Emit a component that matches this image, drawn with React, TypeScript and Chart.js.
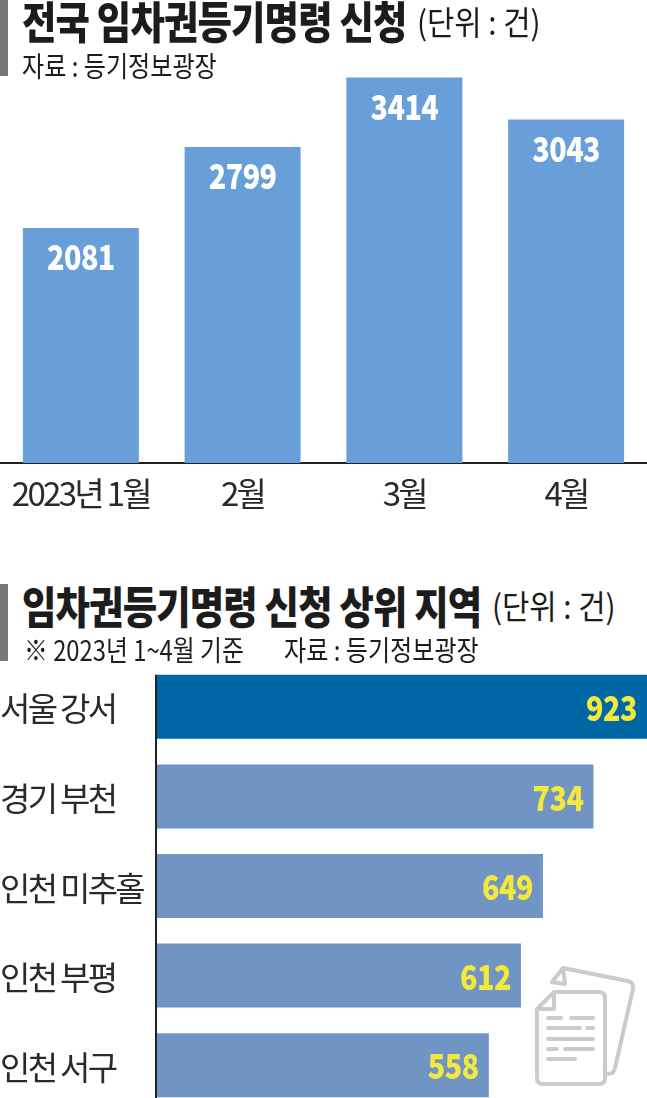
import React, { useEffect, useRef } from "react";
import { Chart, registerables } from "chart.js";

Chart.register(...registerables);

const monthLabels = ["2023년 1월", "2월", "3월", "4월"];
const monthValues = [2081, 2799, 3414, 3043];
const regionLabels = ["서울 강서", "경기 부천", "인천 미추홀", "인천 부평", "인천 서구"];
const regionValues = [923, 734, 649, 612, 558];
const regionColors = ["#0067a6", "#7094c3", "#7094c3", "#7094c3", "#7094c3"];

const FONT = '"Noto Sans CJK KR", "Noto Sans", sans-serif';

const barLabels = (color: string, size: number, squeeze: number, horizontal: boolean, offset: number) => ({
  id: "barLabels",
  beforeDraw(chart: any) {
    chart.ctx.letterSpacing = "-2.7px";
  },
  afterDatasetsDraw(chart: any) {
    const { ctx, chartArea } = chart;
    const meta = chart.getDatasetMeta(0);
    const values = chart.data.datasets[0].data;
    meta.data.forEach((bar: any, i: number) => {
      ctx.save();
      ctx.letterSpacing = "-0.6px";
      ctx.font = `900 ${size}px ${FONT}`;
      ctx.fillStyle = color;
      ctx.textBaseline = "middle";
      if (horizontal) {
        ctx.textAlign = "right";
        ctx.translate(Math.min(bar.x, chartArea.right) - offset, bar.y + 1);
      } else {
        ctx.textAlign = "center";
        ctx.translate(bar.x, bar.y + offset);
      }
      ctx.scale(squeeze, 1);
      ctx.fillText(String(values[i]), 0, 0);
      ctx.restore();
    });
  },
});

const regionAxisLine = {
  id: "regionAxisLine",
  afterDatasetsDraw(chart: any) {
    const { ctx, chartArea } = chart;
    const first = chart.getDatasetMeta(0).data[0];
    ctx.save();
    ctx.strokeStyle = "#222";
    ctx.lineWidth = 2;
    ctx.beginPath();
    ctx.moveTo(chartArea.left - 1, first.y - first.height / 2);
    ctx.lineTo(chartArea.left - 1, chartArea.bottom);
    ctx.stroke();
    ctx.restore();
  },
};

const nudgeRegionTicks = {
  id: "nudgeRegionTicks",
  beforeDraw(chart: any) {
    if (chart.$nudged) return;
    chart.$nudged = true;
    chart.scales.y.getLabelItems().forEach((item: any) => {
      item.options.translation[1] += 2;
    });
  },
};

function MonthChart() {
  const ref = useRef<HTMLCanvasElement>(null);
  useEffect(() => {
    const chart = new Chart(ref.current!, {
      type: "bar",
      data: {
        labels: monthLabels,
        datasets: [{ data: monthValues, backgroundColor: "#689fd9", barPercentage: 0.717, categoryPercentage: 1 }],
      },
      options: {
        animation: false,
        responsive: false,
        layout: { padding: { top: 63 } },
        plugins: { legend: { display: false }, tooltip: { enabled: false } },
        scales: {
          x: {
            grid: { display: false, drawTicks: false },
            border: { display: true, color: "#222", width: 2 },
            ticks: { color: "#2a2a2a", font: { family: FONT, size: 33 }, padding: 11, maxRotation: 0, autoSkip: false },
            afterFit: (s: any) => { s.height = 77; s.paddingLeft = 0; s.paddingRight = 0; },
          },
          y: { display: false, min: 0, max: 3543 },
        },
      },
      plugins: [barLabels("#ffffff", 35, 0.82, false, 29)],
    } as any);
    return () => chart.destroy();
  }, []);
  return <canvas ref={ref} width={647} height={540} style={{ position: "absolute", left: 0, top: 0 }} />;
}

function RegionChart() {
  const ref = useRef<HTMLCanvasElement>(null);
  useEffect(() => {
    const chart = new Chart(ref.current!, {
      type: "bar",
      data: {
        labels: regionLabels,
        datasets: [{ data: regionValues, backgroundColor: regionColors, barPercentage: 0.714, categoryPercentage: 1 }],
      },
      options: {
        indexAxis: "y",
        animation: false,
        responsive: false,
        layout: { padding: 0 },
        plugins: { legend: { display: false }, tooltip: { enabled: false } },
        scales: {
          x: { display: false, min: 0, max: 824 },
          y: {
            grid: { display: false, drawTicks: false },
            border: { display: false },
            ticks: { color: "#2a2a2a", font: { family: FONT, size: 33 }, crossAlign: "far", padding: 0, autoSkip: false },
            afterFit: (s: any) => { s.width = 157; s.paddingTop = 0; s.paddingBottom = 0; },
          },
        },
      },
      plugins: [barLabels("#f2e93c", 35, 0.82, true, 10), regionAxisLine, nudgeRegionTicks],
    } as any);
    return () => chart.destroy();
  }, []);
  return <canvas ref={ref} width={647} height={448} style={{ position: "absolute", left: 0, top: 662 }} />;
}

const text = (left: number, top: number, size: number, weight: number, spacing: number, squeeze: number): React.CSSProperties => ({
  position: "absolute",
  left,
  top,
  fontSize: size,
  fontWeight: weight,
  letterSpacing: spacing,
  lineHeight: 1,
  whiteSpace: "pre",
  color: "#1c1c1c",
  fontFamily: FONT,
  transform: `scaleX(${squeeze})`,
  transformOrigin: "left top",
});

function DocIcon() {
  const stroke = "#cbcbcb";
  return (
    <svg width={110} height={125} viewBox="0 0 110 125" style={{ position: "absolute", left: 530, top: 965 }} fill="none" stroke={stroke} strokeLinecap="round" strokeLinejoin="round">
      <path d="M22 17 L33 3 L98 16 Q104 18 103 24 L85 103 Q83 111 76 108" strokeWidth={4} />
      <path d="M22 17 L35 19 L33 3" strokeWidth={4} />
      <path d="M7 44 L24 27 L69 27 Q75 27 75 33 L75 113 Q75 119 69 119 L13 119 Q7 119 7 113 Z" fill="#fff" strokeWidth={4} />
      <path d="M7 44 L24 44 L24 27" strokeWidth={4} />
      <path d="M18 53 H31 M41 53 H63 M18 63 H50 M57 63 H63 M18 74 H63 M18 84 H27 M35 84 H63 M18 94 H45" strokeWidth={4} />
    </svg>
  );
}

export default function App() {
  useEffect(() => {
    document.body.style.margin = "0";
  }, []);
  return (
    <div style={{ position: "relative", width: 647, height: 1098, overflow: "hidden", background: "#fff" }}>
      <MonthChart />
      <RegionChart />
      <div style={{ position: "absolute", left: 0, top: 0, width: 8, height: 76, background: "#777" }} />
      <div style={{ position: "absolute", left: 0, top: 584, width: 8, height: 77, background: "#777" }} />
      <div style={text(22, -2, 44, 900, -1, 0.85)}>전국 임차권등기명령 신청</div>
      <div style={text(417, 5, 33, 400, 0, 0.9)}>(단위 : 건)</div>
      <div style={text(22, 51, 28, 400, 0, 0.86)}>자료 : 등기정보광장</div>
      <div style={text(22, 583, 44, 900, -1, 0.85)}>임차권등기명령 신청 상위 지역</div>
      <div style={text(492, 589, 33, 400, 0, 0.9)}>(단위 : 건)</div>
      <div style={text(24, 635, 28, 400, 0, 0.85)}>※ 2023년 1~4월 기준</div>
      <div style={text(284, 635, 28, 400, 0, 0.86)}>자료 : 등기정보광장</div>
      <DocIcon />
    </div>
  );
}
